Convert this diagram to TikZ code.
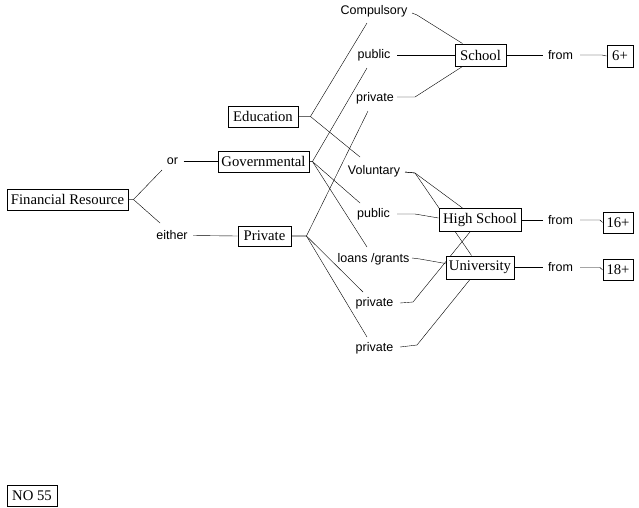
\documentclass[tikz,border=0pt]{standalone}
\usepackage{fontspec}
\setmainfont{Liberation Serif}
\setsansfont{Liberation Sans}
\usetikzlibrary{calc,backgrounds}
\begin{document}
\begin{tikzpicture}[x=1pt,y=-1pt,
  box/.style={draw,fill=white,line width=0.9pt,inner sep=0pt,font=\fontsize{14.7}{16}\selectfont},
  lbl/.style={inner sep=0pt,font=\sffamily\fontsize{12.5}{14}\selectfont,text height=9pt,text depth=2.6pt},
  conn/.style={line width=1pt}]
\useasboundingbox (0,0) rectangle (639,507);
% boxes
\node[box,minimum width=121pt,minimum height=21pt] (fr) at (67.5,199.5) {Financial Resource};
\node[box,minimum width=91pt,minimum height=21pt] (gov) at (263.5,161.5) {Governmental};
\node[box,minimum width=53pt,minimum height=20pt] (priv) at (264.5,236) {Private};
\node[box,minimum width=70pt,minimum height=21pt] (edu) at (263,116.5) {Education};
\node[box,minimum width=51pt,minimum height=22pt] (school) at (480.5,55) {School};
\node[box,minimum width=26pt,minimum height=22pt] (six) at (620,56) {6+};
\node[box,minimum width=82pt,minimum height=23pt] (hs) at (480,220) {High School};
\node[box,minimum width=68pt,minimum height=23pt] (univ) at (480,267.5) {University};
\node[box,minimum width=30pt,minimum height=21pt] (sixteen) at (618,222.5) {16+};
\node[box,minimum width=30pt,minimum height=21pt] (eighteen) at (618,270) {18+};
\node[box,minimum width=50pt,minimum height=21pt] (no) at (32,495.5) {NO 55};
% labels
\node[lbl] (or) at (172.5,161) {or};
\node[lbl] (either) at (172,236) {either};
\node[lbl] (comp) at (374,11) {Compulsory};
\node[lbl] (pubA) at (374,55) {public};
\node[lbl] (privA) at (375,98) {private};
\node[lbl] (vol) at (374,171) {Voluntary};
\node[lbl] (pubB) at (373.5,214) {public};
\node[lbl] (loans) at (373.5,259) {loans /grants};
\node[lbl] (privB) at (374.5,303) {private};
\node[lbl] (privC) at (374.5,348) {private};
\node[lbl] (fromA) at (560.5,56) {from};
\node[lbl] (fromB) at (560.5,221) {from};
\node[lbl] (fromC) at (560.5,268.5) {from};
% connectors
\begin{scope}[on background layer,conn]
\draw (fr.east) -- ++(5,0) -- ($(or.center)+(-10.5,9)$);
\draw (fr.east) -- ++(5,0) -- ($(either.center)+(-12,-13)$);
\draw ($(or.center)+(11,0.5)$) -- (gov.west);
\draw ($(either.center)+(21,-0.5)$) -- (priv.west);
\draw (edu.east) -- ++(12,0) -- ($(comp.center)+(-7,12)$);
\draw (edu.east) -- ++(12,0) -- ($(vol.center)+(-14,-14)$);
\draw (gov.east) -- ++(3,0) -- ($(pubA.center)+(-7,13)$);
\draw (gov.east) -- ++(3,0) -- ($(pubB.center)+(-13.5,-11)$);
\draw (gov.east) -- ++(3,0) -- ($(loans.center)+(-6.5,-12)$);
\draw (priv.east) -- ++(15,0) -- ($(privA.center)+(-7,13)$);
\draw (priv.east) -- ++(15,0) -- ($(privB.center)+(-11.5,-11)$);
\draw (priv.east) -- ++(15,0) -- ($(privC.center)+(-7.5,-11)$);
\draw ($(comp.center)+(38,2)$) -- ++(5,2) -- ($(school.north west)+(8,0)$);
\draw ($(pubA.center)+(23,0)$) -- (school.west);
\draw ($(privA.center)+(22,-1)$) -- ++(18,0) -- ($(school.south west)+(8,0)$);
\draw (school.east) -- ($(fromA.center)+(-17.5,-1)$);
\draw ($(fromA.center)+(19.5,-1)$) -- ++(22,0) -- (six.west);
\draw ($(vol.center)+(31,1)$) -- ++(10,1) -- ($(hs.north west)+(24,0)$);
\draw ($(vol.center)+(31,1)$) -- ++(10,1) -- ($(univ.north west)+(26,0)$);
\draw ($(pubB.center)+(23.5,0)$) -- ++(18,0) -- ($(hs.west)+(0,-2)$);
\draw ($(loans.center)+(38.5,-1)$) -- ++(8,1) -- ($(univ.west)+(0,-4)$);
\draw ($(privB.center)+(25.5,0)$) -- ++(13,-1) -- ($(hs.south)+(-10,0)$);
\draw ($(privC.center)+(25.5,-1)$) -- ++(17,-2) -- ($(univ.south)+(-10,0)$);
\draw (hs.east) -- ($(fromB.center)+(-17.5,-1)$);
\draw ($(fromB.center)+(19.5,-1)$) -- ++(20,0) -- (sixteen.west);
\draw (univ.east) -- ($(fromC.center)+(-17.5,-1)$);
\draw ($(fromC.center)+(19.5,-1)$) -- ++(20,0) -- (eighteen.west);
\end{scope}
\end{tikzpicture}
\end{document}
